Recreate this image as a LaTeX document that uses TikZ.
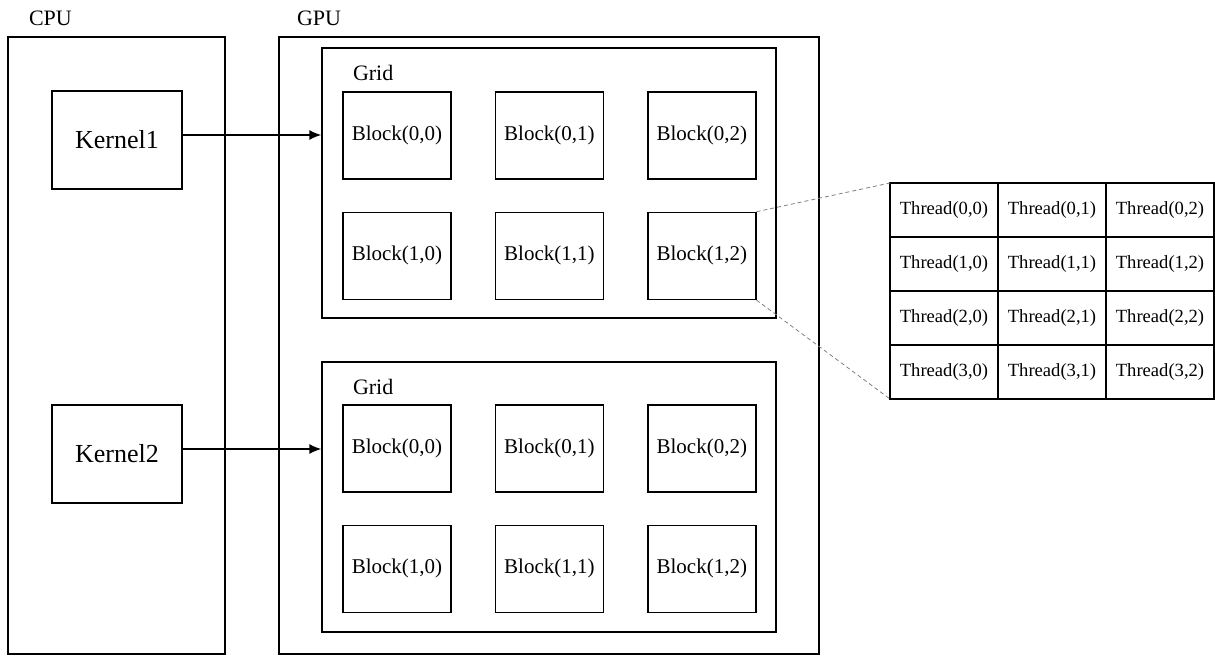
\documentclass[tikz,border=0pt]{standalone}
\usepackage{fontspec}
\setmainfont{Liberation Serif}
\usetikzlibrary{positioning,arrows.meta}

\begin{document}
\begin{tikzpicture}
    [x=0.5pt,y=-0.5pt,line width=0.7pt,
     box/.style={draw,inner sep=0pt},
     kern/.style={draw,minimum width=65pt,minimum height=49pt,font=\fontsize{13}{15}\selectfont},
     blk/.style={draw,minimum width=54pt,minimum height=43.5pt,font=\fontsize{10.5}{12}\selectfont},
     cell/.style={draw,outer sep=0pt,inner sep=0pt,minimum width=54pt,minimum height=27pt,font=\fontsize{9.3}{11}\selectfont},
     lbl/.style={inner sep=0pt,font=\fontsize{11}{13}\selectfont},
     zoomline/.style={draw=gray,line width=0.4pt,dash pattern=on 2pt off 1.5pt}]
    \useasboundingbox (0,0) rectangle (1215,658);
    % host and device
    \node[box,minimum width=108.5pt,minimum height=308.5pt] (cpu) at (116.5,345.5) {};
    \node[box,minimum width=270pt,minimum height=308.5pt] (gpu) at (549,345.5) {};
    \node[lbl,above right=5pt and 10.5pt of cpu.north west] (cpulbl) {CPU};
    \node[lbl,above right=5pt and 9pt of gpu.north west] (gpulbl) {GPU};
    \node[kern] (k1) at (117,140) {Kernel1};
    \node[kern] (k2) at (117,454) {Kernel2};
    % first grid
    \node[box,minimum width=227pt,minimum height=135pt] (grid1) at (549,183) {};
    \node[lbl,anchor=base west] (g1lbl) at ([shift={(15.5pt,-16.5pt)}]grid1.north west) {Grid};
    \node[blk] (g1b00) [below right=22pt and 10.5pt of grid1.north west] {Block(0,0)};
    \node[blk] (g1b01) [right=21.5pt of g1b00] {Block(0,1)};
    \node[blk] (g1b02) [right=21.5pt of g1b01] {Block(0,2)};
    \node[blk] (g1b10) [below=16pt of g1b00] {Block(1,0)};
    \node[blk] (g1b11) [right=21.5pt of g1b10] {Block(1,1)};
    \node[blk] (g1b12) [right=21.5pt of g1b11] {Block(1,2)};
    % second grid
    \node[box,minimum width=227pt,minimum height=135pt] (grid2) at (549,497) {};
    \node[lbl,anchor=base west] (g2lbl) at ([shift={(15.5pt,-16.5pt)}]grid2.north west) {Grid};
    \node[blk] (g2b00) [below right=21.5pt and 10.5pt of grid2.north west] {Block(0,0)};
    \node[blk] (g2b01) [right=21.5pt of g2b00] {Block(0,1)};
    \node[blk] (g2b02) [right=21.5pt of g2b01] {Block(0,2)};
    \node[blk] (g2b10) [below=16pt of g2b00] {Block(1,0)};
    \node[blk] (g2b11) [right=21.5pt of g2b10] {Block(1,1)};
    \node[blk] (g2b12) [right=21.5pt of g2b11] {Block(1,2)};
    % launches
    \draw[-{Latex[length=6pt,width=5pt]}] ([yshift=2.5pt]k1.east) -- ([yshift=2.5pt]k1.east -| grid1.west);
    \draw[-{Latex[length=6pt,width=5pt]}] ([yshift=2.5pt]k2.east) -- ([yshift=2.5pt]k2.east -| grid2.west);
    % threads of one block
    \node[cell,anchor=north west] (t00) at (890,183) {Thread(0,0)};
    \node[cell] (t01) [right=0pt of t00] {Thread(0,1)};
    \node[cell] (t02) [right=0pt of t01] {Thread(0,2)};
    \node[cell] (t10) [below=0pt of t00] {Thread(1,0)};
    \node[cell] (t11) [right=0pt of t10] {Thread(1,1)};
    \node[cell] (t12) [right=0pt of t11] {Thread(1,2)};
    \node[cell] (t20) [below=0pt of t10] {Thread(2,0)};
    \node[cell] (t21) [right=0pt of t20] {Thread(2,1)};
    \node[cell] (t22) [right=0pt of t21] {Thread(2,2)};
    \node[cell] (t30) [below=0pt of t20] {Thread(3,0)};
    \node[cell] (t31) [right=0pt of t30] {Thread(3,1)};
    \node[cell] (t32) [right=0pt of t31] {Thread(3,2)};
    \path[zoomline] (g1b12.north east) -- (t00.north west)
                    (g1b12.south east) -- (t30.south west);
\end{tikzpicture}
\end{document}
